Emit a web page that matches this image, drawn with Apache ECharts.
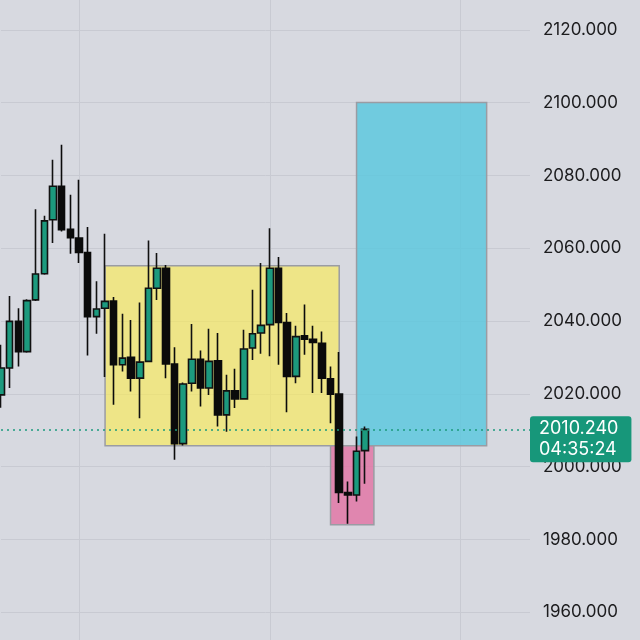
<!DOCTYPE html>
<html>
<head>
<meta charset="utf-8">
<script src="https://cdn.jsdelivr.net/npm/echarts@6/dist/echarts.min.js"></script>
<style>
  html, body { margin: 0; padding: 0; background: #d7d9e0; }
  #main { width: 640px; height: 640px; }
</style>
</head>
<body>
<div id="main"></div>
<script>
// candles: open, close, low, high
var opens  = [2019.7, 2027.1, 2039.9, 2031.6, 2045.8, 2053.0, 2067.8, 2077.0, 2065.2, 2062.8,
              2058.8, 2041.2, 2043.5, 2045.5, 2028.0, 2030.0, 2024.3, 2028.9, 2049.0, 2054.5,
              2028.2, 2006.3, 2022.9, 2029.5, 2021.6, 2029.1, 2014.2, 2020.8, 2018.6, 2032.6,
              2036.7, 2039.0, 2054.5, 2039.6, 2024.8, 2035.9, 2035.0, 2033.9, 2024.1, 2019.9,
              1992.9, 1992.2, 2004.4];
var closes = [2027.1, 2039.9, 2031.6, 2045.6, 2052.9, 2067.5, 2077.0, 2065.1, 2062.9, 2058.8,
              2041.2, 2043.3, 2045.4, 2028.0, 2029.8, 2024.3, 2028.7, 2049.0, 2054.5, 2028.2,
              2006.3, 2022.7, 2029.5, 2021.6, 2028.9, 2014.2, 2020.8, 2018.6, 2032.3, 2036.5,
              2038.8, 2054.5, 2039.6, 2024.8, 2035.7, 2035.0, 2034.1, 2024.3, 2019.9, 1992.9,
              1992.2, 2004.2, 2010.24];
var lows   = [2016.2, 2021.6, 2027.5, 2031.3, 2045.5, 2052.7, 2061.4, 2064.6, 2058.5, 2055.9,
              2030.5, 2036.5, 2024.6, 2017.0, 2026.1, 2020.6, 2013.3, 2028.7, 2045.8, 2024.3,
              2001.9, 2005.8, 2020.6, 2016.5, 2019.7, 2011.0, 2009.6, 2016.1, 2018.5, 2029.3,
              2031.0, 2030.3, 2028.0, 2014.9, 2022.9, 2030.7, 2020.2, 2020.2, 2011.9, 1990.0,
              1984.3, 1990.4, 1995.3];
var highs  = [2033.5, 2046.9, 2043.5, 2046.0, 2070.7, 2068.9, 2084.3, 2088.4, 2074.7, 2078.8,
              2065.8, 2050.9, 2064.0, 2046.6, 2042.0, 2040.3, 2045.1, 2062.1, 2058.7, 2055.4,
              2032.8, 2023.1, 2039.2, 2031.9, 2037.9, 2036.7, 2025.2, 2026.9, 2037.6, 2048.6,
              2055.9, 2065.5, 2057.6, 2042.2, 2038.7, 2044.5, 2038.7, 2037.1, 2027.5, 2031.5,
              1995.9, 2008.3, 2011.0];

var slotCount = 62;           // empty bars continue to the right
var lastPrice = 2010.24;
var lastPriceText = '2010.240';
var countdown = '04:35:24';

// zones: [first bar, last bar, low price, high price]
var rangeZone  = [12, 39, 2005.7, 2055.2];
var targetZone = [41, 56, 2005.7, 2100.0];
var stopZone   = [38, 43, 1984.0, 2005.7];

var categories = [];
for (var i = 0; i < slotCount; i++) categories.push(String(i));

var candleData = [];
for (var j = 0; j < slotCount; j++) {
    if (j < opens.length) candleData.push([opens[j], closes[j], lows[j], highs[j]]);
    else candleData.push('-');
}

function zone(z, color) {
    return [
        { xAxis: z[0], yAxis: z[3], itemStyle: { color: color, borderColor: '#9a9ca3', borderWidth: 1.5 } },
        { xAxis: z[1], yAxis: z[2] }
    ];
}

var myChart = echarts.init(document.getElementById('main'));
var option = {
    backgroundColor: '#d7d9e0',
    animation: false,
    grid: {
        left: 1,
        right: 110,
        top: -43,
        bottom: -45,
        containLabel: false,
        outerBoundsMode: 'none'
    },
    xAxis: {
        type: 'category',
        data: categories,
        boundaryGap: false,
        axisLine: { show: false },
        axisTick: { show: false },
        axisLabel: { show: false },
        splitLine: {
            show: true,
            interval: function (idx) { return (idx - 9) % 22 === 0; },
            lineStyle: { color: '#c8cad2', width: 1 }
        }
    },
    yAxis: {
        type: 'value',
        position: 'right',
        min: 1940,
        max: 2140,
        interval: 20,
        axisLine: { show: false },
        axisTick: { show: false },
        axisLabel: {
            margin: 13,
            color: '#1c1c1e',
            fontSize: 17,
            fontFamily: 'Inter',
            formatter: function (v) { return v.toFixed(3); }
        },
        splitLine: {
            lineStyle: { color: '#c8cad2', width: 1 }
        }
    },
    series: [
        {
            type: 'candlestick',
            data: candleData,
            barWidth: 7,
            itemStyle: {
                color: '#1c9a7e',
                color0: '#0b0b0b',
                borderColor: '#111',
                borderColor0: '#0b0b0b',
                borderWidth: 1.6
            },
            markArea: {
                silent: true,
                data: [
                    zone(rangeZone, 'rgba(251,236,80,0.62)'),
                    zone(targetZone, 'rgba(94,200,222,0.85)'),
                    zone(stopZone, 'rgba(226,116,164,0.82)')
                ]
            },
            markLine: {
                silent: true,
                symbol: ['none', 'none'],
                lineStyle: { color: '#1c9a7e', type: [2, 4], width: 1.5, opacity: 1 },
                label: {
                    position: 'end',
                    distance: 0,
                    offset: [0, 10],
                    formatter: lastPriceText + '\n' + countdown,
                    backgroundColor: '#17977a',
                    color: '#ffffff',
                    fontSize: 18,
                    lineHeight: 21,
                    fontFamily: 'Inter',
                    padding: [2, 13, 2, 9],
                    borderRadius: 3
                },
                data: [{ yAxis: lastPrice }]
            }
        }
    ]
};
myChart.setOption(option);
window.onresize = myChart.resize;
</script>
</body>
</html>
